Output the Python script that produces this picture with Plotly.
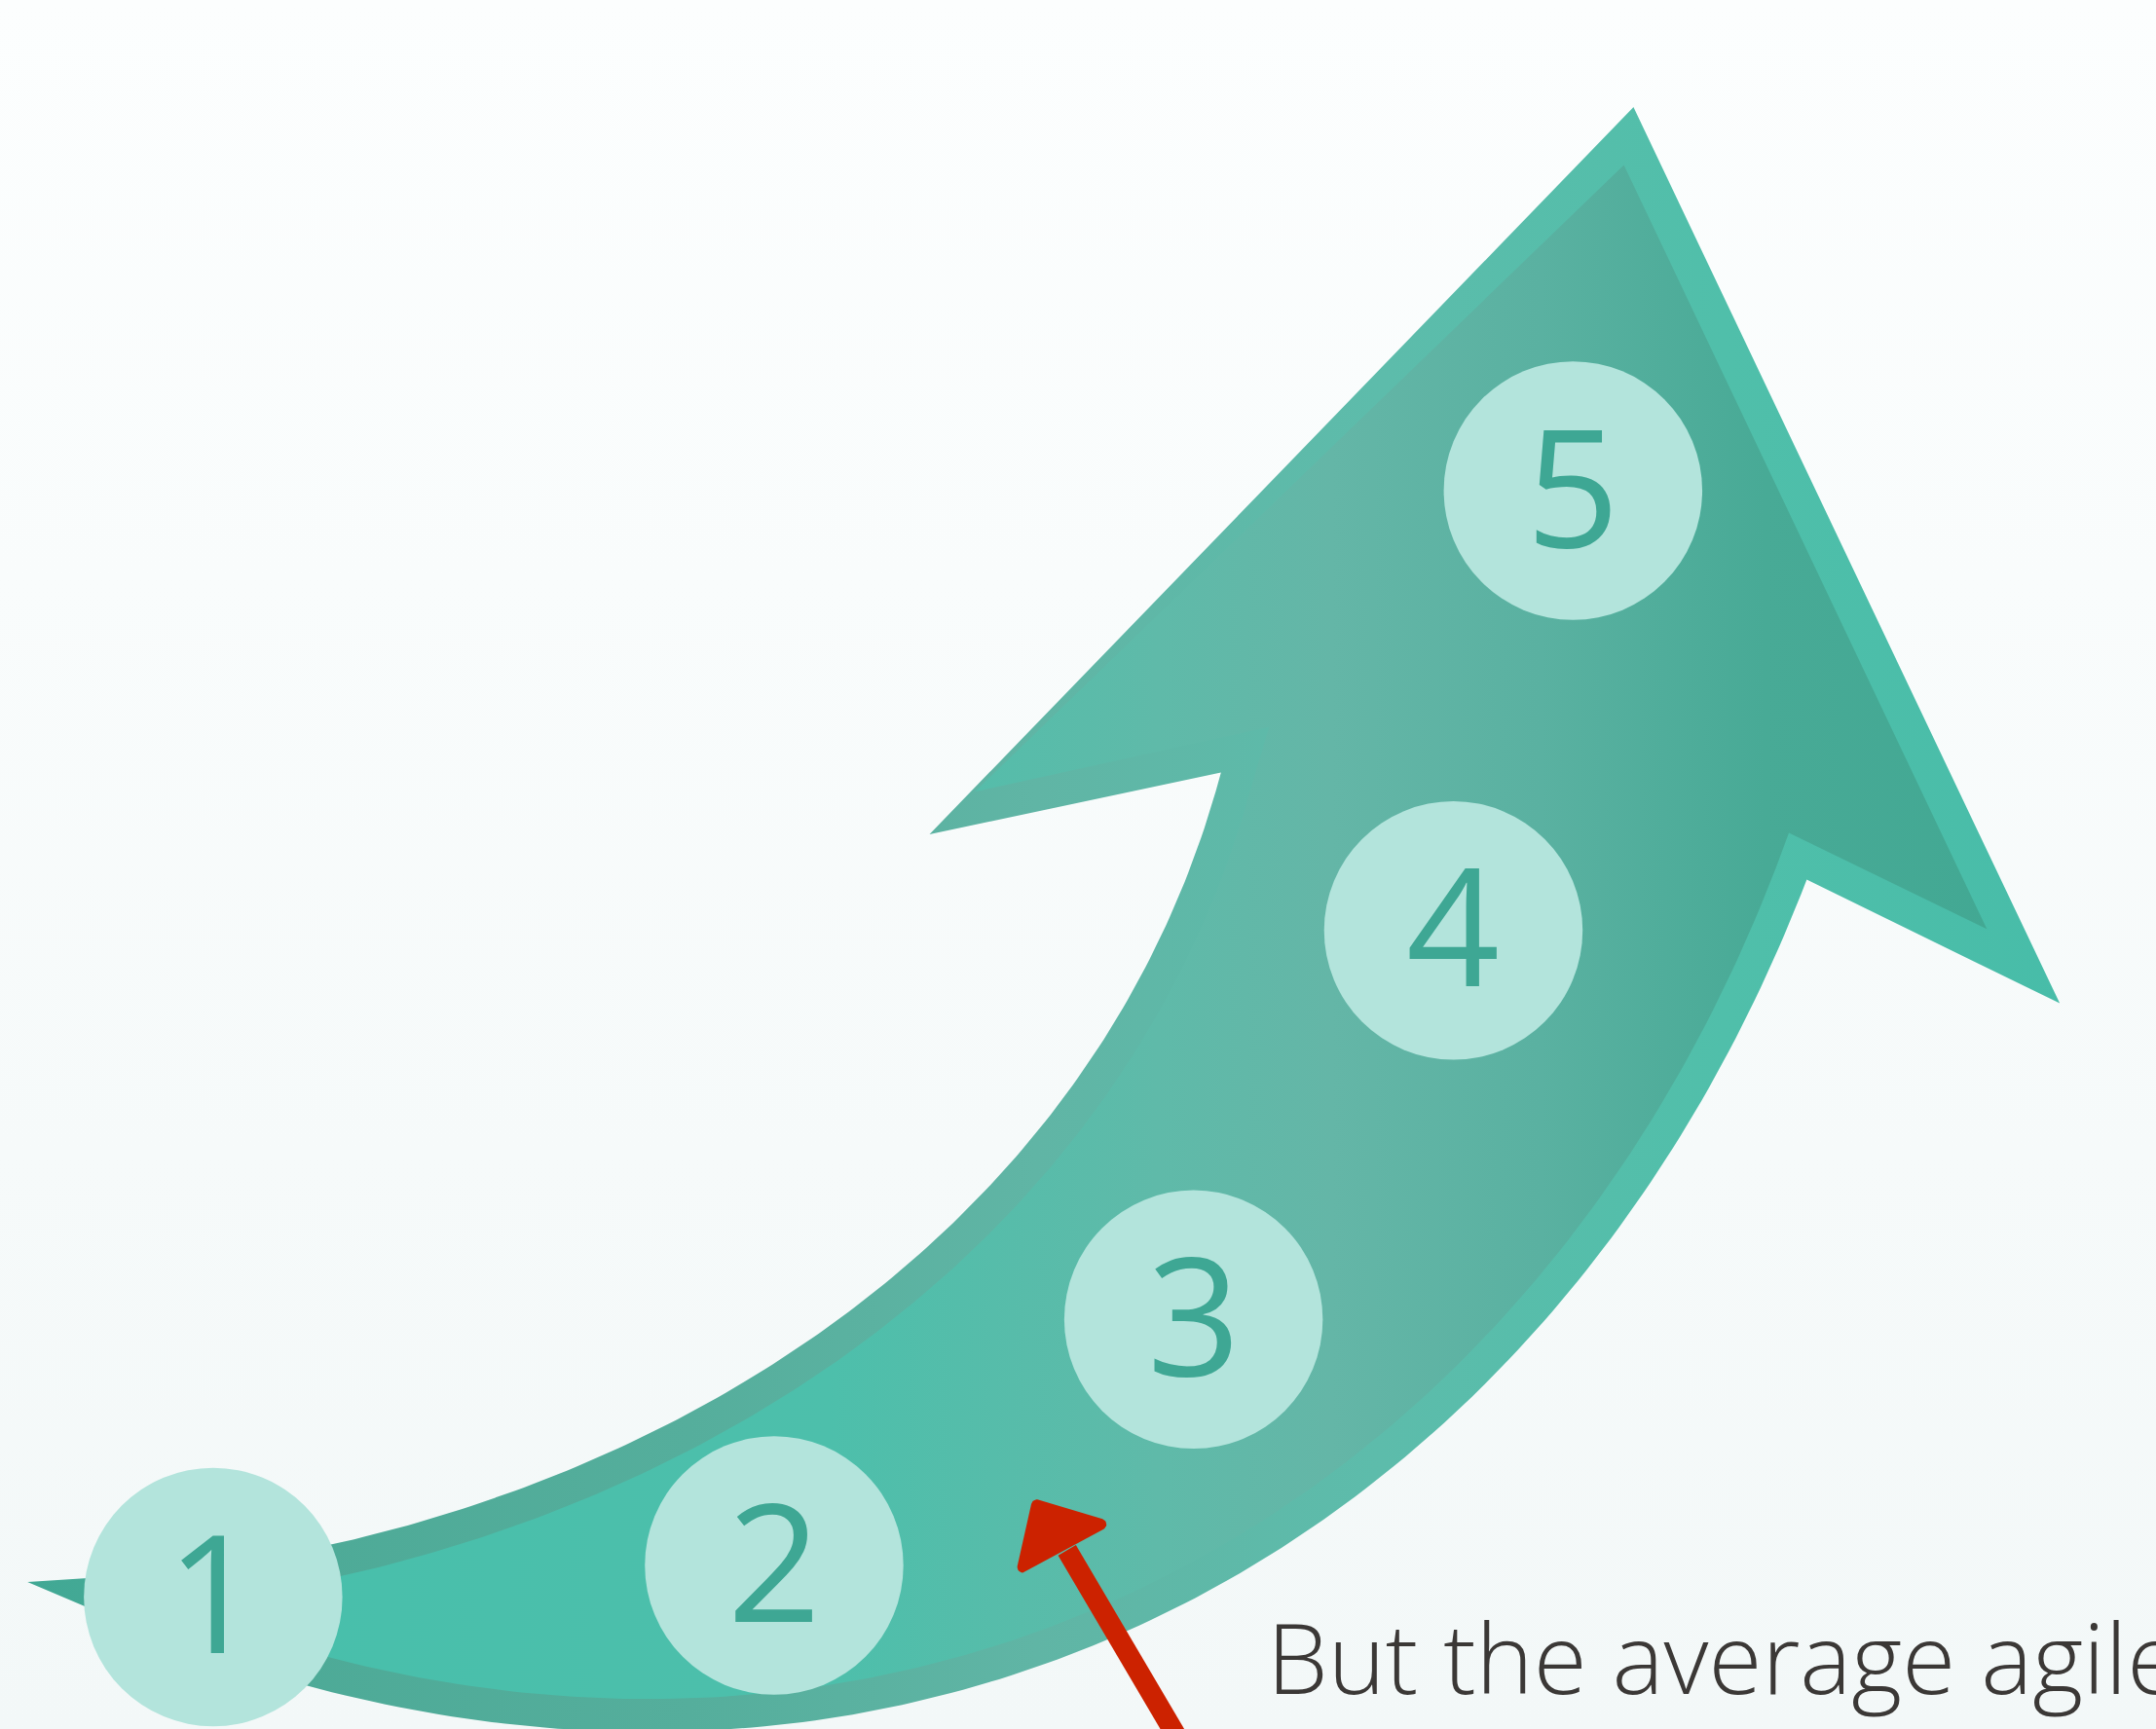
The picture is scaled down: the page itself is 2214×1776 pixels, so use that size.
import numpy as np
import plotly.graph_objects as go

# ---------------- canvas (axis units = reference layout units) ----------------
X_MAX, Y_MAX = 1568, 1258
FIG_W, FIG_H = 2214, 1776
SCALE = FIG_W / X_MAX

# ---------------- data ----------------
step_labels = ["1", "2", "3", "4", "5"]
step_x = [155, 563, 868, 1057, 1144]
step_y = [1162, 1139, 960, 677, 357]
circle_diameter = 188

caption_text = "But the average agile"

# outline of the big curved arrow (outer edge)
tail_tip = (20, 1151)
upper_edge_x = [70, 239, 354, 435, 512, 548, 639, 670, 749, 779, 829, 859, 888]
upper_edge_y = [1148, 1124, 1091, 1058, 1022, 1003, 943, 914, 825, 788, 708, 652, 562]
head_x = [676, 1188, 1498]
head_y = [607, 78, 730]
lower_edge_x = [1314, 1285, 1180, 1062, 930, 779, 637, 508, 350, 226, 130, 65]
lower_edge_y = [640, 708, 873, 1026, 1133, 1206, 1249, 1258, 1248, 1224, 1194, 1170]
# inner (fill) arrow-head corners
inner_notch_left = (923, 529)
inner_head_x = [709, 1181, 1445, 1301]
inner_head_y = [576, 120, 676, 606]
border_width = 24

# red pointer
pointer_shaft_x = [776, 862]
pointer_shaft_y = [1128, 1274]
pointer_head_x = [751, 811, 738]
pointer_head_y = [1090, 1108, 1148]

# colours
bg_scale = [[0, "#fcfefe"], [1, "#f3f8f8"]]
border_scale = [[0.0, "#3fa894"], [0.13, "#4daa97"], [0.32, "#55ae9c"],
                [0.48, "#60b5a5"], [0.64, "#5dbcab"], [0.80, "#50bfaa"], [1.0, "#45bca8"]]
fill_scale = [[0.0, "#48bfab"], [0.32, "#4dbfab"], [0.51, "#5fbaa9"], [0.61, "#64b6a7"],
              [0.73, "#5ab1a1"], [0.86, "#48aa96"], [1.0, "#42a893"]]
circle_color = "#b3e4dc"
digit_color = "#3ea794"
pointer_color = "#cc2200"
caption_color = "#3b3836"


# ---------------- geometry helpers ----------------
def bezier_fit(xs, ys, n=160):
    """Smooth cubic Bezier through the end points, least-squares to the samples."""
    Q = np.column_stack([xs, ys]).astype(float)
    d = np.r_[0, np.cumsum(np.linalg.norm(np.diff(Q, axis=0), axis=1))]
    t = d / d[-1]
    P0, P3 = Q[0], Q[-1]
    for _ in range(6):
        b0 = (1 - t) ** 3
        b1 = 3 * (1 - t) ** 2 * t
        b2 = 3 * (1 - t) * t ** 2
        b3 = t ** 3
        A = np.column_stack([b1, b2])
        R = Q - np.outer(b0, P0) - np.outer(b3, P3)
        C, *_ = np.linalg.lstsq(A, R, rcond=None)
        c1, c2 = C[0], C[1]
        ts = np.linspace(0, 1, 2001)
        curve = (np.outer((1 - ts) ** 3, P0) + np.outer(3 * (1 - ts) ** 2 * ts, c1)
                 + np.outer(3 * (1 - ts) * ts ** 2, c2) + np.outer(ts ** 3, P3))
        idx = [np.argmin(np.linalg.norm(curve - q, axis=1)) for q in Q]
        t = ts[idx]
        t[0], t[-1] = 0.0, 1.0
    ts = np.linspace(0, 1, n)
    return (np.outer((1 - ts) ** 3, P0) + np.outer(3 * (1 - ts) ** 2 * ts, c1)
            + np.outer(3 * (1 - ts) * ts ** 2, c2) + np.outer(ts ** 3, P3))


def offset(curve, w):
    g = np.gradient(curve, axis=0)
    g /= np.linalg.norm(g, axis=1)[:, None]
    nrm = np.column_stack([-g[:, 1], g[:, 0]])
    return curve + nrm * w


def rounded_polygon(vx, vy, r, n=10):
    V = np.column_stack([vx, vy]).astype(float)
    m = len(V)
    pts = []
    for i in range(m):
        P, A, B = V[i], V[i - 1], V[(i + 1) % m]
        u = (A - P) / np.linalg.norm(A - P)
        w = (B - P) / np.linalg.norm(B - P)
        ang = np.arccos(np.clip(np.dot(u, w), -1, 1))
        d = r / np.tan(ang / 2)
        T1, T2 = P + u * d, P + w * d
        bis = (u + w) / np.linalg.norm(u + w)
        C = P + bis * r / np.sin(ang / 2)
        a1 = np.arctan2(T1[1] - C[1], T1[0] - C[0])
        a2 = np.arctan2(T2[1] - C[1], T2[0] - C[0])
        da = (a2 - a1 + np.pi) % (2 * np.pi) - np.pi
        for t in np.linspace(0, 1, n):
            a = a1 + da * t
            pts.append(C + r * np.array([np.cos(a), np.sin(a)]))
    pts.append(pts[0])
    return np.array(pts)


upper = bezier_fit(upper_edge_x, upper_edge_y)
lower = bezier_fit(lower_edge_x, lower_edge_y)

outer = np.vstack([np.array([tail_tip]), upper,
                   np.column_stack([head_x, head_y]), lower, np.array([tail_tip])])

inner_upper = offset(upper, border_width)
inner_lower = offset(lower, border_width)
inner = np.vstack([inner_upper, np.array([inner_notch_left]),
                   np.column_stack([inner_head_x, inner_head_y]), inner_lower, inner_upper[:1]])

pointer_head = rounded_polygon(pointer_head_x, pointer_head_y, 4)

# ---------------- figure ----------------
fig = go.Figure()

fig.add_trace(go.Scatter(
    x=[0, X_MAX, X_MAX, 0, 0], y=[0, 0, Y_MAX, Y_MAX, 0], mode="lines", fill="toself",
    line=dict(width=0), fillgradient=dict(type="vertical", colorscale=bg_scale, start=0, stop=Y_MAX),
    hoverinfo="skip"))

fig.add_trace(go.Scatter(
    x=outer[:, 0], y=outer[:, 1], mode="lines", fill="toself", line=dict(width=0),
    fillgradient=dict(type="horizontal", colorscale=border_scale, start=0, stop=X_MAX),
    hoverinfo="skip"))

fig.add_trace(go.Scatter(
    x=inner[:, 0], y=inner[:, 1], mode="lines", fill="toself", line=dict(width=0),
    fillgradient=dict(type="horizontal", colorscale=fill_scale, start=200, stop=1460),
    hoverinfo="skip"))

fig.add_trace(go.Scatter(
    x=step_x, y=step_y, mode="markers",
    marker=dict(size=circle_diameter * SCALE, color=circle_color, line=dict(width=0)),
    hoverinfo="skip", cliponaxis=False))

for lbl, sx, sy in zip(step_labels, step_x, step_y):
    fig.add_annotation(
        x=sx, y=sy, xref="x", yref="y", text=lbl, showarrow=False,
        xanchor="center", yanchor="middle", yshift=8,
        font=dict(family="Open Sans", size=168, color=digit_color, weight=400))

fig.add_trace(go.Scatter(
    x=pointer_shaft_x, y=pointer_shaft_y, mode="lines",
    line=dict(color=pointer_color, width=15 * SCALE), hoverinfo="skip"))

fig.add_trace(go.Scatter(
    x=pointer_head[:, 0], y=pointer_head[:, 1], mode="lines", fill="toself",
    line=dict(width=0), fillcolor=pointer_color, hoverinfo="skip"))

fig.add_annotation(
    x=920, y=1205, xref="x", yref="y", text=caption_text, showarrow=False,
    xanchor="left", yanchor="middle",
    font=dict(family="Open Sans", size=100, color=caption_color, weight=300))

fig.update_layout(
    width=FIG_W, height=FIG_H, margin=dict(l=0, r=0, t=0, b=0),
    paper_bgcolor="#f8fbfb", plot_bgcolor="#f8fbfb", showlegend=False,
    xaxis=dict(range=[0, X_MAX], visible=False, fixedrange=True),
    yaxis=dict(range=[Y_MAX, 0], visible=False, fixedrange=True),
)

fig.write_html("out.html", config={"displayModeBar": False},
               post_script="document.body.style.margin='0';document.body.style.overflow='hidden';")
